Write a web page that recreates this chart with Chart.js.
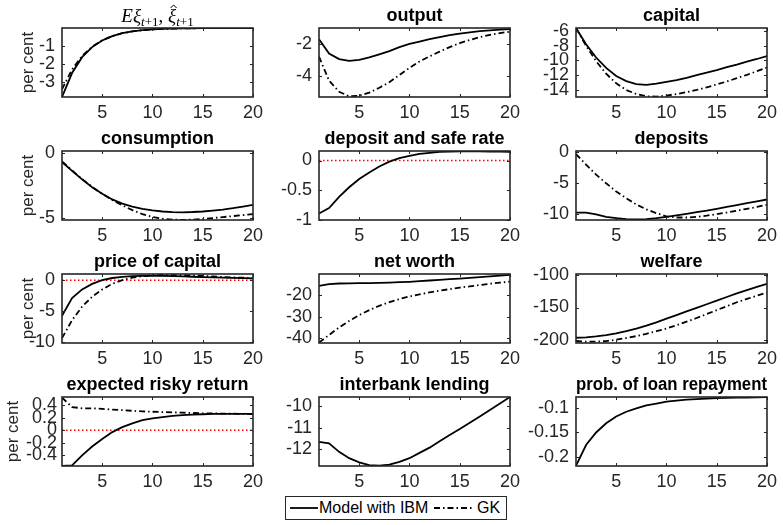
<!DOCTYPE html>
<html><head><meta charset="utf-8">
<script src="https://cdn.jsdelivr.net/npm/chart.js@4.4.1/dist/chart.umd.min.js"></script>
<style>
html,body{margin:0;padding:0;background:#fff}
body{width:783px;height:525px;position:relative;overflow:hidden;font-family:"Liberation Sans",Arial,sans-serif}
canvas{position:absolute}
#legend{position:absolute;left:285px;top:496px;width:222px;height:24px;box-sizing:border-box;border:1px solid #262626;background:#fff}
#legend span{position:absolute;top:0;line-height:22px;font-size:16px;color:#000;white-space:nowrap}
#legend svg{position:absolute;top:0}
</style></head><body>
<div id="legend">
  <svg style="left:4px" width="28" height="22"><line x1="0" y1="11" x2="28" y2="11" stroke="#000" stroke-width="1.8"/></svg>
  <span id="lg1" style="left:33px"></span>
  <svg style="left:148px" width="38" height="22"><line x1="0" y1="11" x2="38" y2="11" stroke="#000" stroke-width="1.8" stroke-dasharray="6 3 1.5 3"/></svg>
  <span id="lg2" style="left:191px"></span>
</div>
<script>
// ---------- data ----------
const periods = [1,2,3,4,5,6,7,8,9,10,11,12,13,14,15,16,17,18,19,20];
const xTickValues = [5,10,15,20];
const seriesNames = ['Model with IBM', 'GK'];
const panelTitles = ['Eξt+1, ξ̂t+1','output','capital','consumption','deposit and safe rate','deposits','price of capital','net worth','welfare','expected risky return','interbank lending','prob. of loan repayment'];
const yAxisLabel = 'per cent';
const zeroLevel = 0;

const expXiIBM = [-3.83,-2.50,-1.62,-1.06,-0.69,-0.45,-0.29,-0.19,-0.12,-0.08,-0.05,-0.035,-0.023,-0.015,-0.01,-0.007,-0.005,-0.003,-0.002,-0.001];
const expXiGK  = [-3.40,-2.30,-1.55,-1.03,-0.68,-0.45,-0.29,-0.19,-0.12,-0.08,-0.05,-0.035,-0.023,-0.015,-0.01,-0.007,-0.005,-0.003,-0.002,-0.001];

const outputIBM = [-1.70,-2.60,-2.95,-3.06,-3.00,-2.85,-2.65,-2.45,-2.20,-2.00,-1.85,-1.70,-1.57,-1.45,-1.35,-1.27,-1.20,-1.15,-1.10,-1.07];
const outputGK  = [-2.80,-4.30,-5.00,-5.28,-5.25,-5.05,-4.75,-4.40,-3.95,-3.50,-3.10,-2.78,-2.48,-2.20,-1.95,-1.75,-1.57,-1.43,-1.32,-1.23];

const capitalIBM = [-5.6,-7.8,-9.6,-11.0,-12.1,-12.8,-13.2,-13.3,-13.15,-12.9,-12.65,-12.35,-12.0,-11.65,-11.3,-10.9,-10.55,-10.15,-9.8,-9.4];
const capitalGK  = [-5.6,-8.0,-10.1,-11.8,-13.1,-14.0,-14.55,-14.85,-14.9,-14.75,-14.55,-14.3,-14.0,-13.65,-13.25,-12.85,-12.4,-11.95,-11.45,-10.95];

const consumptionIBM = [-0.72,-1.40,-2.05,-2.65,-3.15,-3.58,-3.90,-4.12,-4.30,-4.42,-4.50,-4.55,-4.56,-4.54,-4.50,-4.43,-4.35,-4.25,-4.13,-4.00];
const consumptionGK  = [-0.68,-1.37,-2.02,-2.63,-3.15,-3.62,-4.03,-4.40,-4.70,-4.92,-5.05,-5.12,-5.14,-5.12,-5.07,-5.00,-4.93,-4.85,-4.78,-4.70];

const depositRateIBM = [-0.89,-0.80,-0.61,-0.45,-0.31,-0.20,-0.10,-0.02,0.04,0.08,0.11,0.13,0.145,0.15,0.155,0.155,0.155,0.15,0.15,0.145];

const depositsIBM = [-9.7,-9.7,-10.0,-10.4,-10.6,-10.75,-10.8,-10.75,-10.6,-10.4,-10.15,-9.9,-9.65,-9.4,-9.1,-8.8,-8.5,-8.2,-7.9,-7.6];
const depositsGK  = [-0.3,-2.0,-3.6,-5.0,-6.3,-7.4,-8.4,-9.2,-9.8,-10.3,-10.5,-10.5,-10.4,-10.2,-9.95,-9.7,-9.4,-9.1,-8.8,-8.45];

const priceCapitalIBM = [-5.8,-2.9,-1.5,-0.6,0.0,0.35,0.55,0.65,0.7,0.7,0.68,0.65,0.6,0.55,0.5,0.45,0.4,0.37,0.33,0.3];
const priceCapitalGK  = [-9.4,-6.5,-4.3,-2.7,-1.5,-0.6,0.0,0.4,0.65,0.8,0.85,0.85,0.8,0.75,0.68,0.6,0.52,0.45,0.4,0.35];

const netWorthIBM = [-15.8,-15.0,-14.7,-14.6,-14.5,-14.5,-14.4,-14.3,-14.1,-13.9,-13.6,-13.3,-13.0,-12.7,-12.4,-12.1,-11.75,-11.4,-11.05,-10.7];
const netWorthGK  = [-42.0,-38.5,-35.0,-32.0,-29.3,-27.0,-25.0,-23.3,-21.9,-20.7,-19.7,-18.8,-18.0,-17.3,-16.6,-16.0,-15.4,-14.8,-14.3,-13.8];

const welfareIBM = [-196,-195.5,-194,-192,-189.5,-186,-182,-177.5,-172.5,-167,-161.5,-156,-150.5,-145,-139.5,-134,-128.5,-123.5,-118.5,-114];
const welfareGK  = [-201,-202,-202,-201,-199,-196.5,-193.5,-190,-186,-182,-177,-171.5,-166,-160,-154,-148,-142,-137,-132,-127];

const riskyReturnIBM = [-0.57,-0.56,-0.40,-0.26,-0.14,-0.03,0.05,0.11,0.16,0.19,0.21,0.23,0.24,0.25,0.255,0.26,0.26,0.26,0.26,0.26];
const riskyReturnGK  = [0.52,0.37,0.35,0.35,0.34,0.33,0.32,0.31,0.30,0.295,0.29,0.285,0.28,0.275,0.27,0.27,0.265,0.265,0.26,0.26];

const interbankIBM = [-11.68,-11.75,-12.15,-12.45,-12.65,-12.78,-12.8,-12.75,-12.62,-12.45,-12.2,-11.95,-11.65,-11.35,-11.07,-10.77,-10.47,-10.17,-9.86,-9.55];

const loanRepayIBM = [-0.219,-0.176,-0.150,-0.131,-0.117,-0.107,-0.100,-0.094,-0.090,-0.086,-0.084,-0.082,-0.081,-0.080,-0.079,-0.0785,-0.078,-0.0775,-0.077,-0.0768];

const yLimits = [[-3.83,0],[-5.33,-1.0],[-14.95,-5.6],[-5.15,0.12],[-1.0,0.16],[-10.9,0.2],[-10.2,1.0],[-42.2,-10.3],[-204,-99],[-0.57,0.53],[-12.82,-9.55],[-0.2195,-0.0765]];
const yTickValues = [[-3,-2,-1],[-4,-2],[-14,-12,-10,-8,-6],[-5,0],[-1,-0.5,0],[-10,-5,0],[-10,-5,0],[-40,-30,-20],[-200,-150,-100],[-0.4,-0.2,0,0.2,0.4],[-12,-11,-10],[-0.2,-0.15,-0.1]];
const ibmSeries = [expXiIBM,outputIBM,capitalIBM,consumptionIBM,depositRateIBM,depositsIBM,priceCapitalIBM,netWorthIBM,welfareIBM,riskyReturnIBM,interbankIBM,loanRepayIBM];
const gkSeries  = [expXiGK,outputGK,capitalGK,consumptionGK,null,depositsGK,priceCapitalGK,netWorthGK,welfareGK,riskyReturnGK,null,null];
const zeroLinePanels = [4,6,9];

// ---------- rendering ----------
document.getElementById('lg1').textContent = seriesNames[0];
document.getElementById('lg2').textContent = seriesNames[1];

const SANS = '"Liberation Sans", Arial, sans-serif';
const SERIF = '"Liberation Serif", "DejaVu Serif", serif';
const AXC = '#262626';
const plotLefts = [62,319,576];
const plotW = 196, plotH = 69, titleH = 28, xAxisH = 26, rightPad = 10;

const boxPlugin = {
  id:'matlabBox',
  afterDraw(chart){
    const {ctx, chartArea:a, scales:{x,y}} = chart;
    ctx.save();
    ctx.strokeStyle = AXC;
    ctx.lineWidth = 1;
    ctx.beginPath();
    x.ticks.forEach(t=>{const p=Math.round(x.getPixelForValue(t.value))+0.5; ctx.moveTo(p,a.bottom); ctx.lineTo(p,a.bottom-3); ctx.moveTo(p,a.top); ctx.lineTo(p,a.top+3);});
    y.ticks.forEach(t=>{const p=Math.round(y.getPixelForValue(t.value))+0.5; ctx.moveTo(a.left,p); ctx.lineTo(a.left+3,p); ctx.moveTo(a.right,p); ctx.lineTo(a.right-3,p);});
    ctx.stroke();
    ctx.lineWidth = 1.6;
    ctx.strokeRect(a.left, a.top, a.right-a.left, a.bottom-a.top);
    ctx.restore();
  }
};

// math-style title: E xi_{t+1}, hat{xi}_{t+1}
const mathTitlePlugin = {
  id:'mathTitle',
  afterDraw(chart, args, opts){
    if (!opts.enabled) return;
    const {ctx, chartArea:a} = chart;
    const big = 'italic 19px ' + SERIF, subI = 'italic 13px ' + SERIF, subR = '13px ' + SERIF, rom = '19px ' + SERIF;
    const parts = [
      {t:'E', f:big, dy:0}, {t:'ξ', f:big, dy:0}, {t:'t', f:subI, dy:4}, {t:'+1', f:subR, dy:4},
      {t:', ', f:rom, dy:0}, {t:'ξ', f:big, dy:0, hat:true}, {t:'t', f:subI, dy:4}, {t:'+1', f:subR, dy:4}
    ];
    ctx.save();
    ctx.fillStyle = '#000'; ctx.textBaseline = 'alphabetic'; ctx.textAlign = 'left';
    let total = 0;
    parts.forEach(p => { ctx.font = p.f; p.w = ctx.measureText(p.t).width; total += p.w; });
    let x = (a.left + a.right)/2 - total/2;
    const base = a.top - 6;
    parts.forEach(p => {
      ctx.font = p.f;
      ctx.fillText(p.t, x, base + p.dy);
      if (p.hat) {
        const cx = x + p.w/2 + 1.5;
        ctx.beginPath(); ctx.lineWidth = 1; ctx.strokeStyle = '#000';
        ctx.moveTo(cx-3, base-14); ctx.lineTo(cx, base-17); ctx.lineTo(cx+3, base-14); ctx.stroke();
      }
      x += p.w;
    });
    ctx.restore();
  }
};

const fmt = v => String(Math.round(v*1000)/1000);

panelTitles.forEach((title, i) => {
  const col = i % 3, row = Math.floor(i / 3);
  const yAxisW = col === 0 ? 62 : 60;
  const cv = document.createElement('canvas');
  const W = yAxisW + plotW + rightPad, H = titleH + plotH + xAxisH;
  cv.width = W; cv.height = H;
  cv.style.left = (plotLefts[col] - yAxisW) + 'px';
  cv.style.top = (row * 123) + 'px';
  cv.style.width = W + 'px'; cv.style.height = H + 'px';
  document.body.appendChild(cv);

  const datasets = [];
  datasets.push({label: seriesNames[0], data: periods.map((p,k)=>({x:p, y:ibmSeries[i][k]})),
    borderColor:'#000', borderWidth:1.8, pointRadius:0, tension:0, fill:false});
  if (gkSeries[i]) datasets.push({label: seriesNames[1], data: periods.map((p,k)=>({x:p, y:gkSeries[i][k]})),
    borderColor:'#000', borderWidth:1.8, borderDash:[6,3,1.5,3], pointRadius:0, tension:0, fill:false});
  if (zeroLinePanels.includes(i)) datasets.push({label:'zero', data:[{x:periods[0],y:zeroLevel},{x:periods[periods.length-1],y:zeroLevel}],
    borderColor:'#ff0000', borderWidth:1.5, borderDash:[1.5,2.5], pointRadius:0, fill:false});

  const isMath = i === 0;

  new Chart(cv, {
    type:'line',
    data:{datasets},
    plugins:[boxPlugin, mathTitlePlugin],
    options:{
      responsive:false, animation:false, devicePixelRatio:1,
      layout:{padding:{left:0, right:rightPad, top: isMath ? titleH : 0, bottom:0}},
      plugins:{
        legend:{display:false}, tooltip:{enabled:false},
        mathTitle:{enabled:isMath},
        title:{display:!isMath, text:title, fullSize:false, color:'#000',
          font:{family:SANS, weight:'bold', size:18, lineHeight:'20px'}, padding:{top:6, bottom:2}}
      },
      scales:{
        x:{type:'linear', min:periods[0], max:periods[periods.length-1],
          grid:{display:false, drawTicks:false}, border:{display:false},
          afterBuildTicks: s => { s.ticks = xTickValues.map(v=>({value:v})); },
          afterFit: s => { s.height = xAxisH; },
          ticks:{autoSkip:false, maxRotation:0, padding:5, color:AXC, font:{family:SANS, size:18}}
        },
        y:{type:'linear', min:yLimits[i][0], max:yLimits[i][1],
          grid:{display:false, drawTicks:false}, border:{display:false},
          afterBuildTicks: s => { s.ticks = yTickValues[i].map(v=>({value:v})); },
          afterFit: s => { s.width = yAxisW; },
          ticks:{autoSkip:false, padding: i === 9 ? 5 : 7, color:AXC, font:{family:SANS, size:18}, callback: v => fmt(v)},
          title:{display: col === 0, text: yAxisLabel, color:AXC, font:{family:SANS, size:17},
            padding:{top: i === 9 ? 3 : 18, bottom:0}}
        }
      }
    }
  });
});
</script>
</body></html>
